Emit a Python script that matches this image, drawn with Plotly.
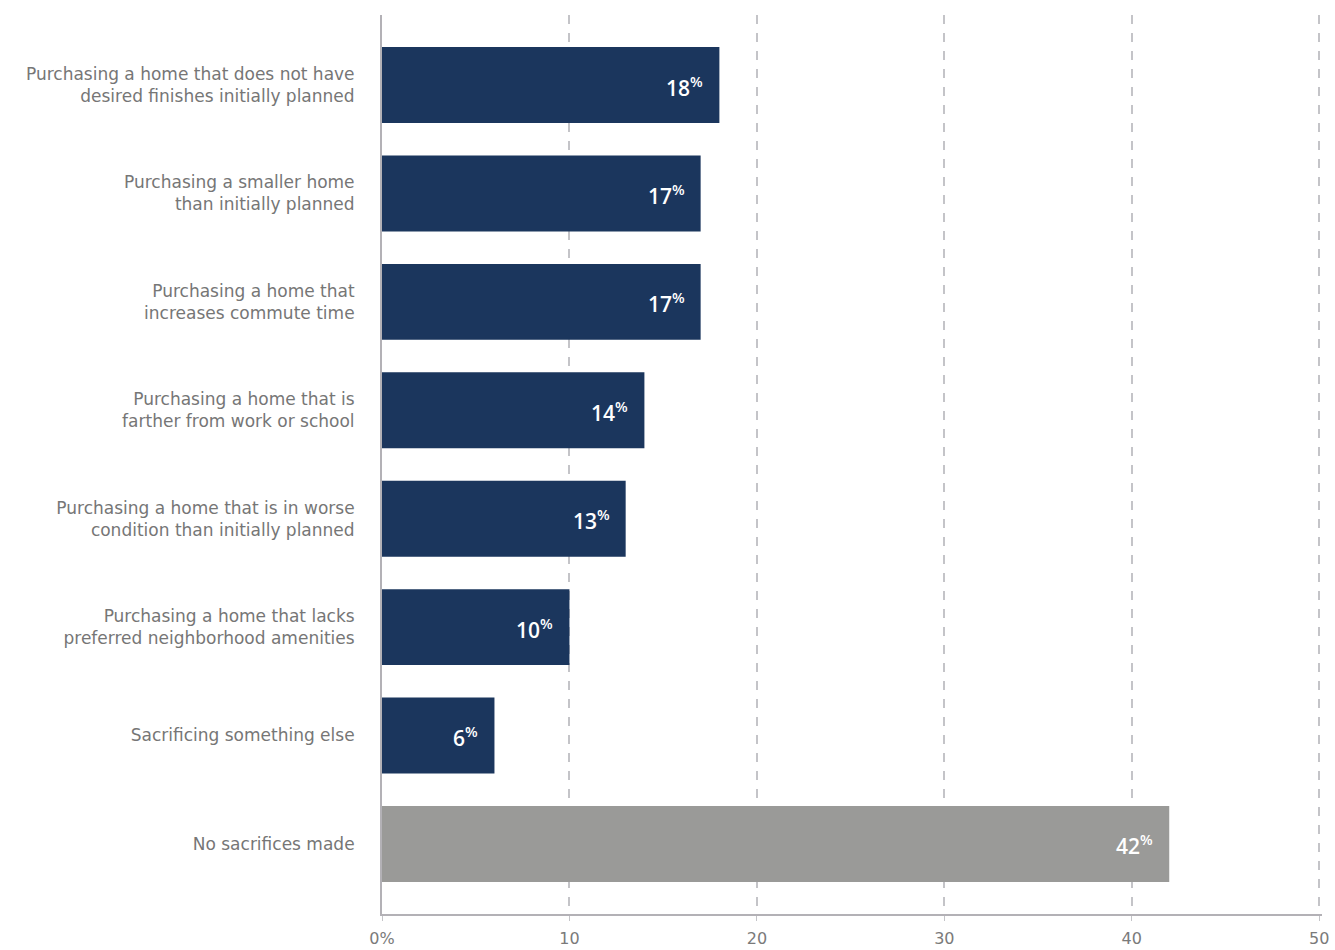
import plotly.graph_objects as go

categories = [
    "Purchasing a home that does not have<br>desired finishes initially planned",
    "Purchasing a smaller home<br>than initially planned",
    "Purchasing a home that<br>increases commute time",
    "Purchasing a home that is<br>farther from work or school",
    "Purchasing a home that is in worse<br>condition than initially planned",
    "Purchasing a home that lacks<br>preferred neighborhood amenities",
    "Sacrificing something else",
    "No sacrifices made",
]
values = [18, 17, 17, 14, 13, 10, 6, 42]
bar_colors = ["#1b365d"] * 7 + ["#9a9a98"]
x_tickvals = [0, 10, 20, 30, 40, 50]
x_ticktext = ["0%", "10", "20", "30", "40", "50"]

ypos = list(range(len(categories)))
FONT = "Open Sans, sans-serif"
LABEL_FONT = "DejaVu Sans, sans-serif"

fig = go.Figure()
fig.add_trace(go.Bar(
    x=values, y=ypos, orientation="h",
    marker=dict(color=bar_colors, line=dict(width=0)),
    hoverinfo="skip",
))

for v, y in zip(values, ypos):
    fig.add_annotation(
        x=v, y=y, xref="x", yref="y",
        text=f"{v}<sup>%</sup>",
        showarrow=False, xanchor="right", yanchor="middle",
        xshift=-14, yshift=-1,
        font=dict(family=FONT, size=21, color="white", weight=600),
    )

fig.update_layout(
    width=1335, height=950,
    margin=dict(l=382, r=13, t=15, b=36, autoexpand=False),
    plot_bgcolor="white", paper_bgcolor="white",
    bargap=0.3, showlegend=False,
    font=dict(family=LABEL_FONT, color="#767676"),
)
fig.update_xaxes(
    range=[0, 50.15], tickvals=x_tickvals, ticktext=x_ticktext,
    showgrid=True, gridcolor="#c4c4c8", griddash="dash", gridwidth=1.5,
    showline=True, linecolor="#b3b1b6", linewidth=2,
    ticks="outside", ticklen=5, tickcolor="#c4c4c8",
    ticklabelstandoff=4,
    tickfont=dict(family=LABEL_FONT, size=16, color="#7a7a7a"),
    zeroline=False, fixedrange=True, automargin=False,
)
fig.update_yaxes(
    range=[7.646, -0.646], tickvals=ypos, ticktext=categories,
    showgrid=False, zeroline=False,
    showline=True, linecolor="#b3b1b6", linewidth=2,
    ticks="", ticklabelstandoff=22, automargin=False,
    tickfont=dict(family=LABEL_FONT, size=17, color="#767676"),
)

fig.write_html(
    "out.html",
    config={"displayModeBar": False},
    post_script="document.body.style.margin='0';document.body.style.overflow='hidden';",
)
